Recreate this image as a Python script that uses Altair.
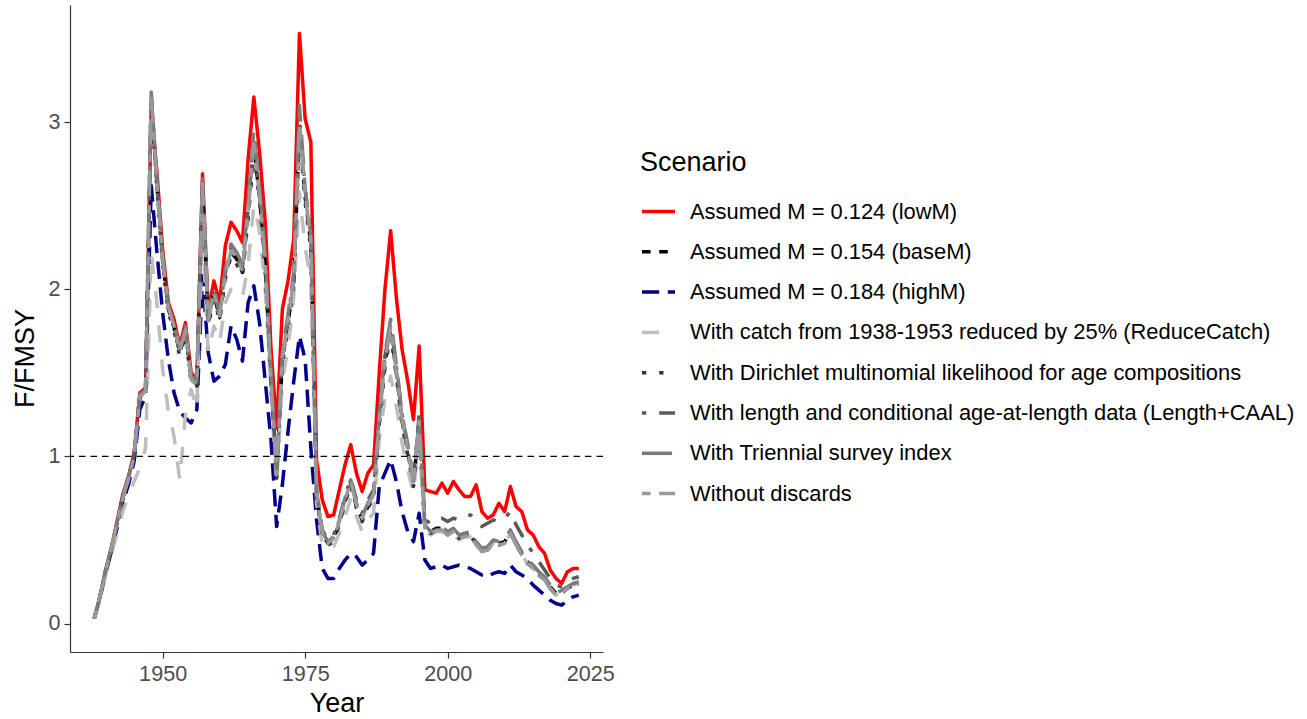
import altair as alt
import pandas as pd

# Fishing intensity relative to F at MSY, by model scenario
years = list(range(1938, 2024))

low_m = [0.03, 0.16, 0.32, 0.45, 0.61, 0.77, 0.88, 1.02, 1.38, 1.41,
         3.08, 2.70, 2.24, 1.92, 1.82, 1.66, 1.80, 1.50, 1.46, 2.69,
         1.87, 2.05, 1.92, 2.26, 2.40, 2.35, 2.28, 2.78, 3.15, 2.82,
         2.40, 1.65, 1.17, 1.88, 2.05, 2.30, 3.53, 3.02, 2.88, 0.98,
         0.74, 0.64, 0.65, 0.80, 0.95, 1.07, 0.90, 0.79, 0.90, 0.95,
         1.50, 2.00, 2.35, 1.95, 1.64, 1.45, 1.22, 1.66, 0.80, 0.79,
         0.78, 0.84, 0.78, 0.85, 0.80, 0.76, 0.76, 0.83, 0.67, 0.63,
         0.65, 0.72, 0.67, 0.82, 0.70, 0.67, 0.56, 0.53, 0.46, 0.42,
         0.32, 0.27, 0.24, 0.31, 0.33, 0.33]

base_m = [0.03, 0.16, 0.31, 0.45, 0.60, 0.75, 0.86, 1.00, 1.36, 1.39,
          3.15, 2.62, 2.17, 1.88, 1.77, 1.62, 1.75, 1.46, 1.43, 2.62,
          1.80, 1.97, 1.83, 2.08, 2.22, 2.18, 2.10, 2.45, 2.85, 2.55,
          2.14, 1.46, 0.88, 1.58, 1.80, 2.04, 2.96, 2.55, 2.27, 0.78,
          0.54, 0.48, 0.50, 0.60, 0.73, 0.84, 0.70, 0.62, 0.70, 0.76,
          1.21, 1.56, 1.76, 1.50, 1.21, 1.03, 0.83, 1.20, 0.58, 0.55,
          0.57, 0.57, 0.54, 0.56, 0.52, 0.53, 0.54, 0.48, 0.44, 0.45,
          0.49, 0.48, 0.49, 0.55, 0.48, 0.42, 0.37, 0.34, 0.30, 0.27,
          0.22, 0.18, 0.19, 0.21, 0.23, 0.24]

high_m = [0.03, 0.15, 0.30, 0.43, 0.57, 0.72, 0.83, 0.97, 1.28, 1.36,
          2.62, 2.22, 1.86, 1.58, 1.38, 1.27, 1.23, 1.20, 1.28, 2.08,
          1.62, 1.45, 1.48, 1.55, 1.78, 1.70, 1.57, 1.92, 2.02, 1.80,
          1.45, 1.10, 0.58, 0.83, 1.15, 1.45, 1.72, 1.58, 1.05, 0.62,
          0.33, 0.27, 0.27, 0.33, 0.38, 0.42, 0.40, 0.35, 0.38, 0.42,
          0.82, 0.90, 0.98, 0.85, 0.67, 0.55, 0.49, 0.66, 0.38, 0.33,
          0.34, 0.35, 0.33, 0.34, 0.35, 0.34, 0.33, 0.31, 0.29, 0.28,
          0.30, 0.31, 0.30, 0.35, 0.31, 0.29, 0.27, 0.23, 0.20, 0.17,
          0.14, 0.12, 0.11, 0.14, 0.16, 0.17]

reduce_catch = [0.03, 0.15, 0.29, 0.41, 0.54, 0.67, 0.76, 0.85, 0.93, 1.05,
                2.22, 1.92, 1.52, 1.27, 1.12, 0.86, 1.25, 1.40, 1.28, 2.35,
                1.62, 1.78, 1.68, 1.92, 2.00, 2.00, 1.95, 2.15, 2.50, 2.35,
                2.00, 1.40, 0.83, 1.45, 1.65, 1.95, 2.58, 2.25, 2.05, 0.72,
                0.47, 0.44, 0.46, 0.54, 0.64, 0.75, 0.64, 0.55, 0.62, 0.66,
                1.10, 1.35, 1.48, 1.30, 1.08, 0.92, 0.78, 1.10, 0.55, 0.53,
                0.55, 0.55, 0.52, 0.54, 0.50, 0.52, 0.52, 0.47, 0.43, 0.44,
                0.48, 0.46, 0.48, 0.54, 0.47, 0.41, 0.36, 0.33, 0.29, 0.26,
                0.21, 0.17, 0.19, 0.21, 0.23, 0.24]

dirichlet = [0.03, 0.16, 0.31, 0.44, 0.59, 0.74, 0.85, 0.99, 1.35, 1.38,
             3.12, 2.60, 2.15, 1.86, 1.75, 1.60, 1.73, 1.44, 1.41, 2.60,
             1.78, 1.95, 1.81, 2.06, 2.20, 2.15, 2.08, 2.42, 2.82, 2.52,
             2.10, 1.43, 0.87, 1.55, 1.78, 2.02, 2.92, 2.52, 2.24, 0.76,
             0.53, 0.47, 0.49, 0.59, 0.72, 0.83, 0.69, 0.61, 0.69, 0.75,
             1.19, 1.53, 1.73, 1.48, 1.19, 1.01, 0.82, 1.18, 0.57, 0.54,
             0.56, 0.56, 0.53, 0.55, 0.51, 0.53, 0.53, 0.47, 0.44, 0.45,
             0.48, 0.47, 0.48, 0.54, 0.47, 0.41, 0.36, 0.33, 0.29, 0.26,
             0.21, 0.17, 0.18, 0.21, 0.23, 0.24]

length_caal = [0.03, 0.16, 0.32, 0.45, 0.60, 0.76, 0.87, 1.01, 1.37, 1.40,
               3.17, 2.64, 2.19, 1.90, 1.79, 1.64, 1.77, 1.47, 1.44, 2.64,
               1.83, 1.99, 1.85, 2.10, 2.25, 2.20, 2.13, 2.48, 2.90, 2.58,
               2.17, 1.48, 0.90, 1.60, 1.83, 2.08, 3.02, 2.60, 2.31, 0.80,
               0.56, 0.50, 0.53, 0.63, 0.76, 0.87, 0.74, 0.66, 0.74, 0.80,
               1.24, 1.60, 1.79, 1.54, 1.25, 1.07, 0.87, 1.25, 0.62, 0.60,
               0.62, 0.63, 0.61, 0.63, 0.62, 0.64, 0.65, 0.62, 0.58, 0.60,
               0.62, 0.61, 0.63, 0.67, 0.59, 0.53, 0.47, 0.42, 0.37, 0.32,
               0.27, 0.23, 0.22, 0.25, 0.27, 0.28]

triennial = [0.03, 0.16, 0.32, 0.45, 0.60, 0.76, 0.87, 1.01, 1.37, 1.40,
             3.18, 2.66, 2.20, 1.90, 1.80, 1.64, 1.78, 1.48, 1.45, 2.66,
             1.84, 2.00, 1.86, 2.12, 2.27, 2.22, 2.15, 2.52, 2.95, 2.62,
             2.20, 1.50, 0.90, 1.62, 1.85, 2.10, 3.10, 2.60, 2.32, 0.80,
             0.55, 0.49, 0.52, 0.62, 0.75, 0.86, 0.72, 0.64, 0.72, 0.78,
             1.25, 1.62, 1.82, 1.55, 1.25, 1.06, 0.85, 1.23, 0.59, 0.55,
             0.57, 0.58, 0.55, 0.57, 0.53, 0.54, 0.55, 0.49, 0.45, 0.46,
             0.50, 0.49, 0.50, 0.56, 0.49, 0.43, 0.38, 0.35, 0.31, 0.28,
             0.23, 0.18, 0.20, 0.22, 0.24, 0.25]

no_discards = [0.03, 0.16, 0.31, 0.45, 0.60, 0.75, 0.86, 1.00, 1.36, 1.39,
               3.16, 2.63, 2.18, 1.89, 1.78, 1.63, 1.76, 1.46, 1.43, 2.63,
               1.81, 1.98, 1.84, 2.09, 2.23, 2.19, 2.11, 2.46, 2.87, 2.56,
               2.15, 1.47, 0.89, 1.59, 1.81, 2.05, 2.98, 2.57, 2.29, 0.79,
               0.54, 0.48, 0.51, 0.61, 0.74, 0.85, 0.71, 0.63, 0.71, 0.77,
               1.22, 1.57, 1.77, 1.51, 1.22, 1.04, 0.84, 1.21, 0.57, 0.54,
               0.56, 0.56, 0.53, 0.55, 0.51, 0.52, 0.53, 0.47, 0.43, 0.44,
               0.48, 0.47, 0.48, 0.54, 0.47, 0.41, 0.36, 0.33, 0.29, 0.26,
               0.21, 0.17, 0.18, 0.21, 0.23, 0.24]

scenarios = [
    "Assumed M = 0.124 (lowM)",
    "Assumed M = 0.154 (baseM)",
    "Assumed M = 0.184 (highM)",
    "With catch from 1938-1953 reduced by 25% (ReduceCatch)",
    "With Dirichlet multinomial likelihood for age compositions",
    "With length and conditional age-at-length data (Length+CAAL)",
    "With Triennial survey index",
    "Without discards",
]
series = [low_m, base_m, high_m, reduce_catch, dirichlet, length_caal,
          triennial, no_discards]

line_colors = ["#FF0000", "#000000", "#00008B", "#BEBEBE", "#333333",
               "#595959", "#7A7A7A", "#999999"]
u = 4.3  # dash unit, in pixels
line_dashes = [
    [1, 0],                    # solid
    [2 * u, 2 * u],            # "22"
    [4 * u, 2 * u],            # "42"
    [4 * u, 4 * u],            # "44"
    [1 * u, 3 * u],            # "13"
    [1 * u, 3 * u, 4 * u, 3 * u],  # "1343"
    [7 * u, 3 * u],            # "73"
    [2 * u, 2 * u, 6 * u, 2 * u],  # "2262"
]

rows = []
for name, vals in zip(scenarios, series):
    for yr, v in zip(years, vals):
        rows.append({"Year": yr, "F_FMSY": v, "Scenario": name})
df = pd.DataFrame(rows)

FONT = "Liberation Sans"

x_scale = alt.Scale(domain=[1933.75, 2027.25], nice=False, zero=False)
y_scale = alt.Scale(domain=[-0.17, 3.70], nice=False, zero=False)
color_scale = alt.Scale(domain=scenarios, range=line_colors)
dash_scale = alt.Scale(domain=scenarios, range=line_dashes)

x_axis = alt.Axis(values=[1950, 1975, 2000, 2025], format="d", title="Year",
                  labelFontSize=21.6, labelColor="#4D4D4D", titleFontSize=27,
                  titleFontWeight="normal", titleColor="black",
                  tickColor="#333333", tickSize=6, tickWidth=1.2,
                  domainColor="#333333", domainWidth=1.2, grid=False,
                  labelPadding=5, titlePadding=6, labelFlush=False)
y_axis = alt.Axis(values=[0, 1, 2, 3], format="d", title="F/FMSY",
                  labelFontSize=21.6, labelColor="#4D4D4D", titleFontSize=27,
                  titleFontWeight="normal", titleColor="black",
                  tickColor="#333333", tickSize=6, tickWidth=1.2,
                  domainColor="#333333", domainWidth=1.2, grid=False,
                  labelPadding=4, titlePadding=8, labelFlush=False,
                  titleY=353)

legend = alt.Legend(title="Scenario", orient="none", legendX=570, legendY=145,
                    titleFontSize=27, titleFontWeight="normal",
                    titleColor="black", titlePadding=16,
                    labelFontSize=21.9, labelColor="black", labelOffset=13,
                    labelLimit=1000, symbolType="stroke", symbolSize=1089,
                    symbolStrokeWidth=3.5, rowPadding=10.3, padding=0)

layers = []
for name in scenarios:
    layers.append(
        alt.Chart(df)
        .transform_filter(alt.datum.Scenario == name)
        .mark_line(strokeWidth=3.5, strokeJoin="round")
        .encode(
            x=alt.X("Year:Q", scale=x_scale, axis=x_axis),
            y=alt.Y("F_FMSY:Q", scale=y_scale, axis=y_axis),
            color=alt.Color("Scenario:N", scale=color_scale, legend=legend),
            strokeDash=alt.StrokeDash("Scenario:N", scale=dash_scale,
                                      legend=legend),
        )
    )

ref_line = (
    alt.Chart(pd.DataFrame({"ref": [1.0]}))
    .mark_rule(color="black", strokeWidth=1.3, strokeDash=[6.5, 5])
    .encode(y=alt.Y("ref:Q", scale=y_scale))
)

chart = (
    alt.layer(*layers, ref_line)
    .properties(
        width=533,
        height=647,
        padding={"left": 70, "top": 5, "right": 704, "bottom": 67},
        autosize=alt.AutoSizeParams(type="none"),
        background="white",
    )
    .configure(font=FONT)
    .configure_view(stroke=None)
)

chart.save("out.html", embed_options={"renderer": "svg", "actions": False})
